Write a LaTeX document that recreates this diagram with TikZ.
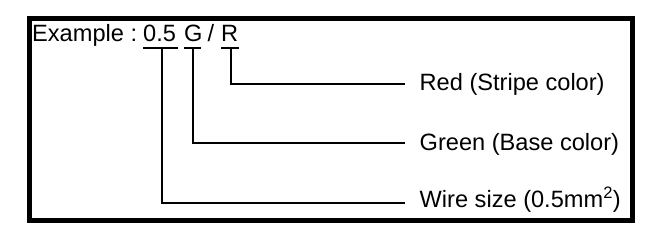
\documentclass[tikz,border=0pt]{standalone}
\usepackage{fontspec}
\setmainfont{Liberation Sans}
\begin{document}
\begin{tikzpicture}[x=1pt,y=-1pt,
  txt/.style={inner sep=0pt, anchor=base west, font=\fontsize{23.6}{26}\selectfont},
  heavy/.style={line width=2pt},
  light/.style={line width=1.2pt},
  frame/.style={line width=5pt}]
\useasboundingbox (0,0) rectangle (672,238);
\draw[frame] (29,18.5) rectangle (632.5,220.5);
% header
\node[txt] (ex) at (32,42) {Example :};
\node[txt] (n05) at (143,42) {0.5};
\node[txt] (g) at (184,42) {G};
\node[txt] (sl) at (207.5,42) {/};
\node[txt] (r) at (221,42) {R};
% underlines
\draw[heavy] ([yshift=-6.3pt]n05.base west) -- ([xshift=1.5pt,yshift=-6.3pt]n05.base east);
\draw[heavy] ([yshift=-6.3pt]g.base west) -- ([xshift=-1.5pt,yshift=-6.3pt]g.base east);
\draw[heavy] ([yshift=-6.3pt]r.base west) -- ([xshift=0.5pt,yshift=-6.3pt]r.base east);
% labels
\node[txt] (lr) at (419.5,90.5) {Red (Stripe color)};
\node[txt] (lg) at (419.5,150.5) {Green (Base color)};
\node[txt] (lw) at (419.5,207.5) {Wire size (0.5mm\textsuperscript{2})};
% connectors
\coordinate (rc) at ([xshift=1.3pt]r.base |- 0,84);
\draw[light] ([xshift=1.3pt,yshift=-6.3pt]r.base) -- (rc) -- ([xshift=-15pt]lr.base west |- rc);
\coordinate (gc) at ([xshift=-0.4pt]g.base |- 0,143);
\draw[light] ([xshift=-0.4pt,yshift=-6.3pt]g.base) -- (gc);
\draw[heavy] ([xshift=-0.8pt]gc) -- ([xshift=-15pt]lg.base west |- gc);
\coordinate (wc) at ([xshift=2.2pt]n05.base |- 0,203);
\draw[heavy] ([xshift=2.2pt,yshift=-6.3pt]n05.base) -- (wc) -- ([xshift=-15pt]lw.base west |- wc);
\end{tikzpicture}
\end{document}
